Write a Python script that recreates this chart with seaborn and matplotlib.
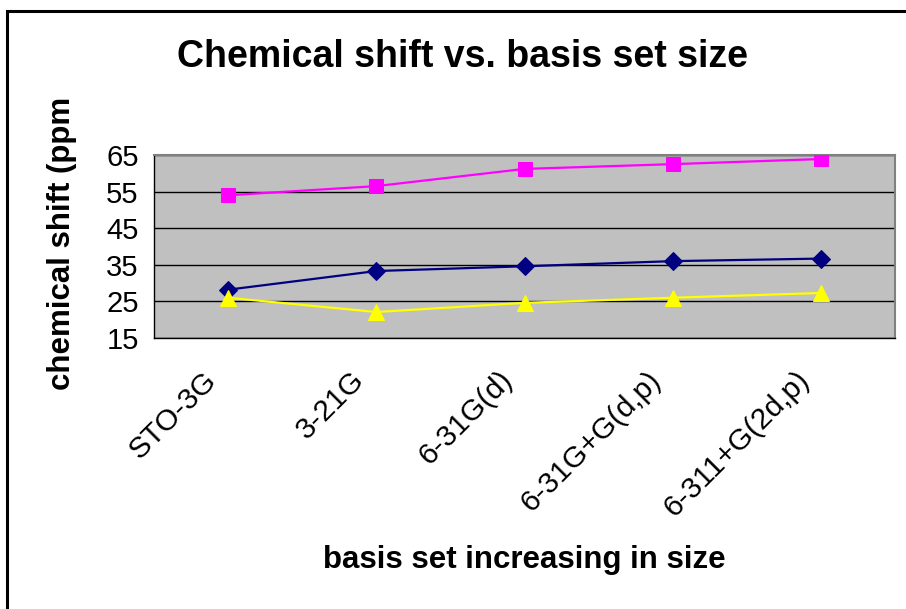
import matplotlib
matplotlib.use('Agg')
import matplotlib.pyplot as plt
import matplotlib.transforms as mtransforms
import pandas as pd
import seaborn as sns

# data
basis_sets = ['STO-3G', '3-21G', '6-31G(d)', '6-31G+G(d,p)', '6-311+G(2d,p)']
series_pink = [54.0, 56.5, 61.2, 62.5, 63.9]
series_navy = [28.2, 33.3, 34.6, 36.0, 36.7]
series_yellow = [26.0, 22.1, 24.6, 26.0, 27.3]
y_ticks = [15, 25, 35, 45, 55, 65]

sns.set_style('white')
plt.rcParams['font.family'] = ['Liberation Sans', 'DejaVu Sans']
plt.rcParams['text.color'] = 'black'
plt.rcParams['xtick.color'] = 'black'
plt.rcParams['ytick.color'] = 'black'

df = pd.DataFrame({
    'basis': basis_sets * 3,
    'pos': list(range(len(basis_sets))) * 3,
    'shift': series_pink + series_navy + series_yellow,
    'series': ['pink'] * 5 + ['navy'] * 5 + ['yellow'] * 5,
})

fig = plt.figure(figsize=(9.06, 6.09), dpi=100)
ax = fig.add_axes([154 / 906, 1 - 338 / 609, 741 / 906, 183 / 609])
ax.set_facecolor('#C0C0C0')

styles = {'pink': ('#FF00FF', 's', 10), 'navy': ('#000080', 'D', 9), 'yellow': ('#FFFF00', '^', 11)}
for name, (col, mk, ms) in styles.items():
    sub = df[df['series'] == name]
    sns.lineplot(data=sub, x='pos', y='shift', ax=ax, color=col, marker=mk,
                 markersize=ms, markeredgecolor=col, linewidth=1.6, zorder=3)

ax.set_xlim(-0.5, len(basis_sets) - 0.5)
ax.set_ylim(15, 65)
ax.set_yticks(y_ticks)
ax.set_yticklabels([str(t) for t in y_ticks], fontsize=21)
ax.yaxis.grid(True, color='black', linewidth=1)
ax.set_axisbelow(True)

# category boundaries carry the ticks, labels sit at centres
ax.set_xticks([i - 0.5 for i in range(len(basis_sets) + 1)])
ax.set_xticklabels([])
ax.set_xticks(range(len(basis_sets)), minor=True)
ax.set_xticklabels(basis_sets, minor=True, rotation=45, ha='right', va='top',
                   rotation_mode='anchor', fontsize=21.5)
ax.tick_params(axis='x', which='minor', length=0, pad=20)
ax.tick_params(axis='x', which='major', length=7, width=1, color='black', direction='out')
ax.tick_params(axis='y', length=7, width=1, color='black', direction='out', pad=4)
offset = mtransforms.ScaledTranslation(-26 / 100, 0, fig.dpi_scale_trans)
for lbl in ax.get_xticklabels(minor=True):
    lbl.set_transform(lbl.get_transform() + offset)

for side in ['top', 'right']:
    ax.spines[side].set_color('#808080')
    ax.spines[side].set_linewidth(1.5)
for side in ['left', 'bottom']:
    ax.spines[side].set_color('black')
    ax.spines[side].set_linewidth(1)

ax.set_xlabel('')
ax.set_ylabel('')

fig.text(463 / 906, 1 - 57 / 609, 'Chemical shift vs. basis set size', ha='center', va='center',
         fontsize=27, fontweight='bold')
fig.text(524 / 906, 1 - 560 / 609, 'basis set increasing in size', ha='center', va='center',
         fontsize=22.5, fontweight='bold')
fig.text(62 / 906, 1 - 243 / 609, 'chemical shift (ppm', ha='center', va='center',
         rotation=90, fontsize=22.5, fontweight='bold')

# chart frame, cut off at right and bottom
border = plt.Rectangle((7 / 906, 0 - 0.1), 1.2, 1 - 11 / 609 + 0.1, transform=fig.transFigure,
                       fill=False, edgecolor='black', linewidth=2.2)
fig.patches.append(border)

fig.savefig('out.png', dpi=100)
